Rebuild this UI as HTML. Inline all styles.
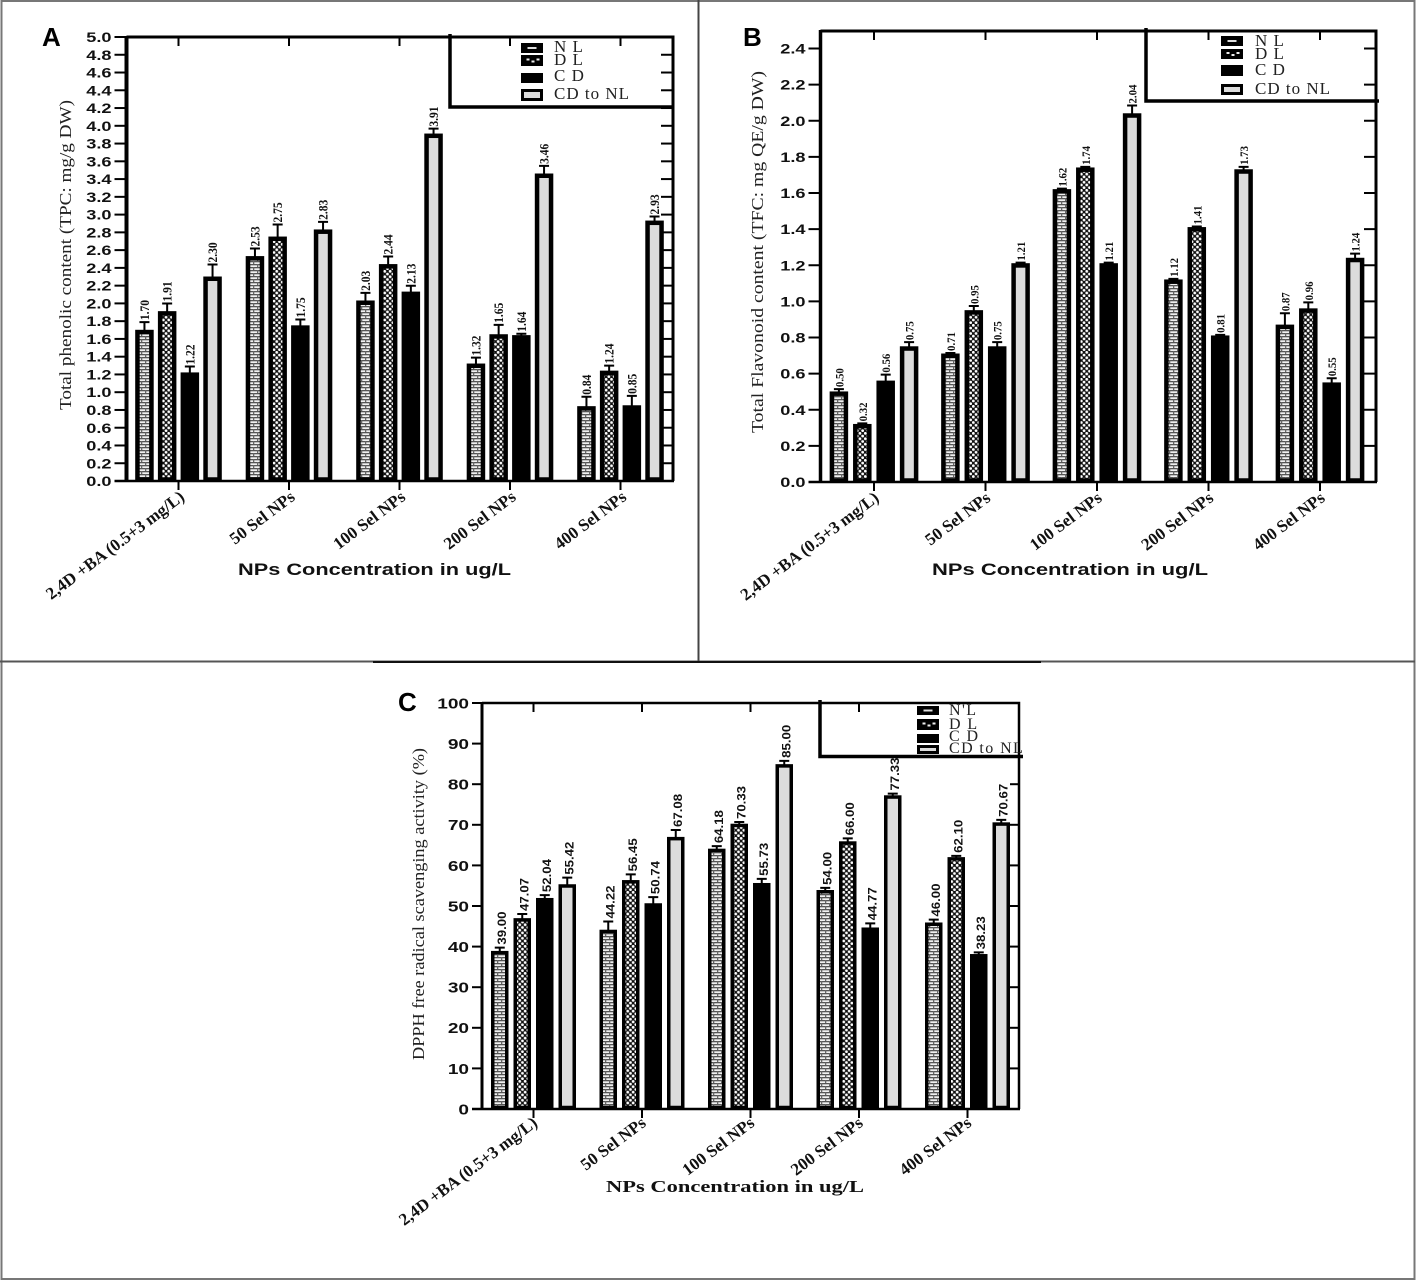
<!DOCTYPE html>
<html lang="en">
<head>
<meta charset="utf-8">
<title>Phenolic, flavonoid and DPPH charts</title>
<style>
html,body{margin:0;padding:0;background:#fff;}
svg{display:block;}
</style>
</head>
<body>
<svg id="figure" xmlns="http://www.w3.org/2000/svg" width="1417" height="1281" viewBox="0 0 1417 1281">
  <defs>
    <pattern id="brick" patternUnits="userSpaceOnUse" width="8" height="6">
      <rect width="8" height="6" fill="#f0f0f0"/>
      <rect y="0" width="8" height="1.3" fill="#555"/>
      <rect y="3" width="8" height="1.3" fill="#555"/>
      <rect x="1" y="0" width="1.3" height="3" fill="#666"/>
      <rect x="5" y="3" width="1.3" height="3" fill="#666"/>
    </pattern>
    <pattern id="checks" patternUnits="userSpaceOnUse" width="5.4" height="5.4">
      <rect width="5.4" height="5.4" fill="#111"/>
      <circle cx="1.35" cy="1.35" r="1.4" fill="#fff"/>
      <circle cx="4.05" cy="4.05" r="1.4" fill="#fff"/>
    </pattern>
  </defs>
  <rect width="1417" height="1281" fill="#fff"/>
  <g fill="none" stroke="#777" stroke-width="2">
    <rect x="1.5" y="1" width="1413" height="1278"/>
    <line x1="698.5" y1="0" x2="698.5" y2="661" stroke="#444"/>
    <line x1="0" y1="661.5" x2="1415" y2="661.5" stroke="#555"/>
    <line x1="373" y1="662" x2="1041" y2="662" stroke="#111"/>
  </g>
</svg>
<script>
const categories = ["2,4D +BA (0.5+3 mg/L)", "50 Sel NPs", "100 Sel NPs", "200 Sel NPs", "400 Sel NPs"];
const seriesNames = ["NL", "DL", "CD", "CD-to-NL"];

const tickLabelsA = ["0.0","0.2","0.4","0.6","0.8","1.0","1.2","1.4","1.6","1.8","2.0","2.2","2.4","2.6","2.8","3.0","3.2","3.4","3.6","3.8","4.0","4.2","4.4","4.6","4.8","5.0"];
const nlA = [1.70, 2.53, 2.03, 1.32, 0.84];
const dlA = [1.91, 2.75, 2.44, 1.65, 1.24];
const cdA = [1.22, 1.75, 2.13, 1.64, 0.85];
const cdnlA = [2.30, 2.83, 3.91, 3.46, 2.93];
const nlErrA = [0.10, 0.10, 0.10, 0.08, 0.12];
const dlErrA = [0.10, 0.15, 0.10, 0.12, 0.07];
const cdErrA = [0.08, 0.08, 0.08, 0.03, 0.12];
const cdnlErrA = [0.15, 0.10, 0.07, 0.10, 0.06];

const tickLabelsB = ["0.0","0.2","0.4","0.6","0.8","1.0","1.2","1.4","1.6","1.8","2.0","2.2","2.4"];
const nlB = [0.50, 0.71, 1.62, 1.12, 0.87];
const dlB = [0.32, 0.95, 1.74, 1.41, 0.96];
const cdB = [0.56, 0.75, 1.21, 0.81, 0.55];
const cdnlB = [0.75, 1.21, 2.04, 1.73, 1.24];
const nlErrB = [0.02, 0.01, 0.01, 0.01, 0.07];
const dlErrB = [0.01, 0.03, 0.01, 0.01, 0.04];
const cdErrB = [0.04, 0.03, 0.01, 0.01, 0.03];
const cdnlErrB = [0.03, 0.01, 0.05, 0.02, 0.03];

const tickLabelsC = ["0","10","20","30","40","50","60","70","80","90","100"];
const nlC = [39.00, 44.22, 64.18, 54.00, 46.00];
const dlC = [47.07, 56.45, 70.33, 66.00, 62.10];
const cdC = [52.04, 50.74, 55.73, 44.77, 38.23];
const cdnlC = [55.42, 67.08, 85.00, 77.33, 70.67];
const nlErrC = [1.0, 2.2, 0.8, 0.7, 0.9];
const dlErrC = [1.2, 1.6, 0.6, 0.9, 0.5];
const cdErrC = [0.9, 1.7, 1.2, 1.2, 0.6];
const cdnlErrC = [1.8, 1.9, 1.0, 0.6, 0.8];

const SANS = '"Liberation Sans", sans-serif';
const SERIF = '"Liberation Serif", serif';
const NS = "http://www.w3.org/2000/svg";
const root = document.getElementById("figure");

function mk(parent, tag, attrs, text) {
  const el = document.createElementNS(NS, tag);
  for (const k in attrs) el.setAttribute(k, attrs[k]);
  if (text !== undefined) el.textContent = text;
  parent.appendChild(el);
  return el;
}

function drawChart(c) {
  const g = mk(root, "g", {});
  
  
  const yScale = v => c.y0 - (v / c.vmax) * (c.y0 - c.ymaxPx);
  const groupX = i => c.firstGroup + i * c.groupStep;
  const barX = (i, s) => groupX(i) + (s - 1.5) * c.barStep;
  const fills = ["url(#brick)", "url(#checks)", "#000", "#dcdcdc"];

  const panelLabel = mk(g, "text", {x: c.letterX, y: c.letterY, "font-family": SANS, "font-weight": "bold", "font-size": 26, fill: "#000"}, c.id);
  
  

  // bars and error bars
  c.values.forEach((series, s) => {
    series.forEach((v, i) => {
      const cx = barX(i, s);
      const top = yScale(v) + 2;
      const errTop = yScale(v + c.errors[s][i]) + 1;
      const errLine = mk(g, "path", {d: `M${cx} ${top}V${errTop}M${cx - c.capW} ${errTop}H${cx + c.capW}`, stroke: "#000", "stroke-width": 2, fill: "none"});
      
      
      const bar = mk(g, "rect", {x: cx - c.barW / 2, y: top, width: c.barW, height: c.y0 - top - 1.5, fill: fills[s], stroke: "#000", "stroke-width": c.barStroke});
      
      
      const tx = cx + c.valueDx, ty = errTop - c.valueGap;
      const label = mk(g, "text", {transform: `translate(${tx} ${ty}) rotate(-90) scale(${c.valueScale} 1)`, "font-family": c.valueFont, "font-weight": "bold", "font-size": c.valueSize, fill: "#111"}, v.toFixed(2));
      
      
    });
  });

  // frame
  const frame = mk(g, "path", {d: `M${c.xLeft} ${c.ymaxPx - c.topExtra}H${c.xRight}V${c.y0}`, fill: "none", stroke: "#000", "stroke-width": c.frameW});
  
  
  const yAxis = mk(g, "line", {x1: c.xLeft, y1: c.ymaxPx - c.topExtra - 1, x2: c.xLeft, y2: c.y0 + 1, stroke: "#000", "stroke-width": c.axisW});
  
  
  const xAxis = mk(g, "line", {x1: c.xLeft - c.tickLen, y1: c.y0, x2: c.xRight + 1, y2: c.y0, stroke: "#000", "stroke-width": 2.5});
  
  

  // y ticks
  c.ticks.forEach(lbl => {
    const v = parseFloat(lbl);
    const y = yScale(v);
    const t = mk(g, "line", {x1: c.xLeft - c.tickLen, y1: y, x2: c.xLeft, y2: y, stroke: "#000", "stroke-width": 2});
    
    
    if (v > 0 && y > c.rTickTop) {
      const r = mk(g, "line", {x1: c.xRight - c.rTickLen, y1: y, x2: c.xRight, y2: y, stroke: "#000", "stroke-width": 2});
      
      
    }
    const tl = mk(g, "text", {transform: `translate(${c.xLeft - c.tickLen - 3} ${y + c.tickSize * 0.36}) scale(${c.tickScale} 1)`, "text-anchor": "end", "font-family": SANS, "font-weight": "bold", "font-size": c.tickSize, fill: "#111"}, lbl);
    
    
  });

  // x ticks and categories
  categories.forEach((cat, i) => {
    const x = groupX(i);
    const b = mk(g, "line", {x1: x, y1: c.y0, x2: x, y2: c.y0 + 9, stroke: "#000", "stroke-width": 2});
    
    
    if (x < c.topTickMaxX) {
      const t = mk(g, "line", {x1: x, y1: c.ymaxPx - c.topExtra, x2: x, y2: c.ymaxPx - c.topExtra + 9, stroke: "#000", "stroke-width": 2});
      
      
    }
    const lbl = mk(g, "text", {transform: `translate(${x + c.catDx} ${c.y0 + c.catDy}) rotate(-37)`, "text-anchor": "end", "font-family": SERIF, "font-weight": "bold", "font-size": 17, fill: "#111"}, cat);
    
    
  });

  // titles
  const xt = mk(g, "text", {x: c.xTitleX, y: c.xTitleY, "font-family": c.xTitleFont, "font-weight": "bold", "font-size": c.xTitleSize, textLength: c.xTitleLen, lengthAdjust: "spacingAndGlyphs", fill: "#111"}, "NPs Concentration in ug/L");
  
  
  const yt = mk(g, "text", {transform: `translate(${c.yTitleX} ${c.yTitleY}) rotate(-90)`, "font-family": SERIF, "font-size": 17, textLength: c.yTitleLen, lengthAdjust: "spacingAndGlyphs", fill: "#222"}, c.yTitle);
  
  

  // legend
  const lg = mk(g, "g", {});
  
  
  const box = mk(lg, "path", {d: `M${c.legX} ${c.legTop - 3}V${c.legBottom}H${c.legRight}`, fill: "none", stroke: "#000", "stroke-width": c.legW});
  
  
  c.legendRows.forEach((row, k) => {
    const swFill = k === 3 ? "#dcdcdc" : "#000";
    const sw = mk(lg, "rect", {x: c.swX, y: row[0], width: 19, height: row[1], fill: swFill, stroke: "#000", "stroke-width": 3});
    
    
    if (k === 0) {
      const dash = mk(lg, "rect", {x: c.swX + 5, y: row[0] + row[1] / 2 - 1, width: 9, height: 2, fill: "#ddd"});
      
      
    }
    if (k === 1) {
      [4, 9, 14].forEach((dx, n) => {
        const dot = mk(lg, "rect", {x: c.swX + dx, y: row[0] + row[1] / 2 - (n === 1 ? 0 : 2), width: 3, height: 2, fill: "#eee"});
        
        
      });
    }
    const tx = mk(lg, "text", {x: c.legTextX, y: row[2], "font-family": SERIF, "font-size": c.legSize, "letter-spacing": c.legSpacing, fill: "#222"}, row[3]);
    
    
  });
}

drawChart({
  id: "A", letterX: 42, letterY: 46, y0: 481, ymaxPx: 37, vmax: 5.0, topExtra: 0,
  xLeft: 126.5, xRight: 673, frameW: 3, axisW: 4, tickLen: 12, rTickLen: 12, rTickTop: 0, topTickMaxX: 9999,
  firstGroup: 178.5, groupStep: 110.5, barStep: 22.7, barW: 14, barStroke: 4.5, capW: 5,
  values: [nlA, dlA, cdA, cdnlA], errors: [nlErrA, dlErrA, cdErrA, cdnlErrA], ticks: tickLabelsA,
  tickSize: 14, tickScale: 1.3, valueFont: SERIF, valueSize: 12.5, valueScale: 0.92, valueDx: 4.5, valueGap: 2,
  catDx: 7, catDy: 18,
  xTitleX: 238, xTitleY: 575, xTitleFont: SANS, xTitleSize: 17, xTitleLen: 273,
  yTitle: "Total phenolic content (TPC: mg/g DW)", yTitleX: 71, yTitleY: 410, yTitleLen: 310,
  legX: 450, legTop: 37, legBottom: 107, legRight: 673, legW: 3.5, swX: 522.5, legTextX: 554, legSize: 17, legSpacing: 1,
  legendRows: [[44.5, 7, 52, "N L"], [56.5, 8, 65, "D L"], [74.5, 7, 81, "C D"], [90.5, 9, 99, "CD to NL"]]
});

drawChart({
  id: "B", letterX: 743, letterY: 46, y0: 482, ymaxPx: 48.5, vmax: 2.4, topExtra: 17.5,
  xLeft: 820.5, xRight: 1376, frameW: 3, axisW: 3.5, tickLen: 12, rTickLen: 12, rTickTop: 0, topTickMaxX: 9999,
  firstGroup: 874, groupStep: 111.5, barStep: 23.4, barW: 14, barStroke: 4.5, capW: 5,
  values: [nlB, dlB, cdB, cdnlB], errors: [nlErrB, dlErrB, cdErrB, cdnlErrB], ticks: tickLabelsB,
  tickSize: 14, tickScale: 1.3, valueFont: SERIF, valueSize: 12, valueScale: 0.9, valueDx: 4.5, valueGap: 2,
  catDx: 6, catDy: 18,
  xTitleX: 932, xTitleY: 575, xTitleFont: SANS, xTitleSize: 17, xTitleLen: 276,
  yTitle: "Total Flavonoid content (TFC: mg QE/g DW)", yTitleX: 763, yTitleY: 433, yTitleLen: 362,
  legX: 1146, legTop: 31, legBottom: 101, legRight: 1379, legW: 3.5, swX: 1222.5, legTextX: 1255, legSize: 17, legSpacing: 1,
  legendRows: [[37.5, 7, 46, "N L"], [50.5, 7, 59, "D L"], [66.5, 8, 75, "C D"], [85.5, 8, 94, "CD to NL"]]
});

drawChart({
  id: "C", letterX: 398, letterY: 711, y0: 1109, ymaxPx: 703, vmax: 100, topExtra: 0,
  xLeft: 482, xRight: 1019, frameW: 2.5, axisW: 3, tickLen: 10, rTickLen: 9, rTickTop: 756, topTickMaxX: 900,
  firstGroup: 533.5, groupStep: 108.5, barStep: 22.5, barW: 14, barStroke: 3.5, capW: 5,
  values: [nlC, dlC, cdC, cdnlC], errors: [nlErrC, dlErrC, cdErrC, cdnlErrC], ticks: tickLabelsC,
  tickSize: 15, tickScale: 1.27, valueFont: SANS, valueSize: 11.5, valueScale: 1.15, valueDx: 6, valueGap: 3,
  catDx: 5, catDy: 16,
  xTitleX: 606, xTitleY: 1192, xTitleFont: SERIF, xTitleSize: 16.5, xTitleLen: 258,
  yTitle: "DPPH free radical scavenging activity (%)", yTitleX: 424, yTitleY: 1060, yTitleLen: 312,
  legX: 820, legTop: 703, legBottom: 756.5, legRight: 1023, legW: 3.5, swX: 918.5, legTextX: 949, legSize: 16, legSpacing: 1.4,
  legendRows: [[707.5, 6, 715, "N'L"], [720.5, 8, 729, "D  L"], [735.5, 6, 741, "C D"], [746.5, 6, 753, "CD to NL"]]
});
</script>
</body>
</html>
